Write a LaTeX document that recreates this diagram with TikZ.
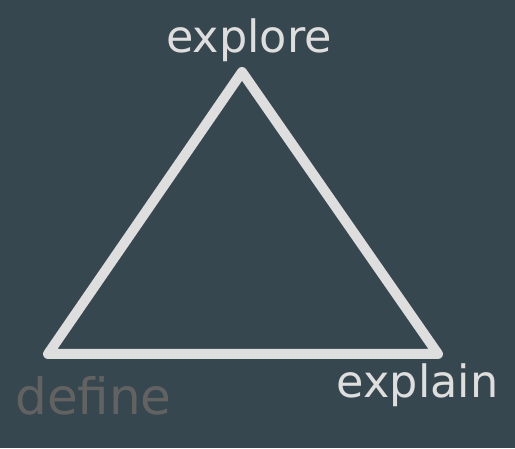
\documentclass[tikz,border=0pt]{standalone}
\usepackage{fontspec}
\setmainfont{DejaVu Sans}
\definecolor{slate}{HTML}{37474F}
\definecolor{edge}{HTML}{DEDEDE}
\definecolor{dim}{HTML}{626262}
\begin{document}
\begin{tikzpicture}[x=1pt,y=1pt,
  word/.style ={inner sep=0pt,anchor=base,text=edge,font=\fontsize{44.5}{44.5}\selectfont},
  side/.style ={draw=edge,line width=10pt,line join=round,line cap=round}]
          \fill[slate] (0,0) rectangle (515,448);
          \useasboundingbox (0,0) rectangle (515,448);
          \coordinate (top) at (242,376);
          \coordinate (left) at (48,94);
          \coordinate (right) at (438,94);
          \draw[side] (top) -- (right) -- (left) -- cycle;
          \node[word] (explore) at (249,395) {explore};
          \node[word] (explain) at (417.5,50) {explain};
          \node[word,text=dim,font=\fontsize{50}{50}\selectfont] (define) at (93.5,34) {define};
        \end{tikzpicture}
\end{document}
